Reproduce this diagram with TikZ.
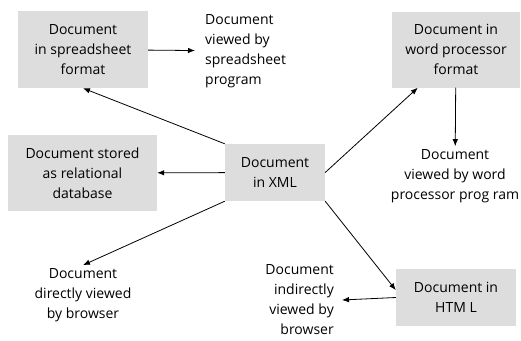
\documentclass[tikz,border=0pt]{standalone}
\usepackage{fontspec}
\setmainfont{Open Sans}
\usepackage{xcolor}
\usepackage{tikz}
\usetikzlibrary{arrows.meta,positioning}
\definecolor{docgray}{RGB}{221,221,221}

\begin{document}
\begin{tikzpicture}[x=1pt,y=-1pt,
  box/.style={fill=docgray,align=center,inner sep=0pt,font=\fontsize{14}{20}\selectfont},
  label/.style={align=center,inner sep=3pt,font=\fontsize{14}{20}\selectfont},
  arrow/.style={-{Latex[length=7pt,width=5.5pt]},line width=0.8pt}
]
\useasboundingbox (0,0) rectangle (521,340);
\node[box,minimum width=130pt,minimum height=77pt] (spread) at (83,49.5) {Document\\in spreadsheet\\format};
\node[box,minimum width=128pt,minimum height=76pt] (word) at (456,49.5) {Document in\\word processor\\format};
\node[box,minimum width=149pt,minimum height=76pt] (db) at (82.5,173) {Document stored\\as relational\\database};
\node[box,minimum width=100pt,minimum height=57pt] (xml) at (275,172.5) {Document\\in XML};
\node[box,minimum width=120pt,minimum height=57pt] (html) at (456,297.5) {Document in\\HTM L};
\node[label,align=left,anchor=west,inner xsep=10pt] (spreadview) at (195,51) {Document\\viewed by\\spreadsheet\\program};
\node[label] (wordview) at (455,176) {Document\\viewed by word\\processor prog ram};
\node[label] (direct) at (83,295) {Document\\directly viewed\\by browser};
\node[label,align=right,anchor=east,inner xsep=8pt] (indirect) at (342,300) {Document\\indirectly\\viewed by\\browser};
\draw[arrow] (spread) -- (spreadview);
\draw[arrow] (word) -- (wordview);
\draw[arrow] (xml.north west) -- (spread.south);
\draw[arrow] (xml) -- (db);
\draw[arrow] (xml.south west) -- (direct.north);
\draw[arrow] (xml.east) -- (word.225);
\draw[arrow] (xml.south east) -- (html.173);
\draw[arrow] (html.west) -- (indirect.east);
\end{tikzpicture}
\end{document}
